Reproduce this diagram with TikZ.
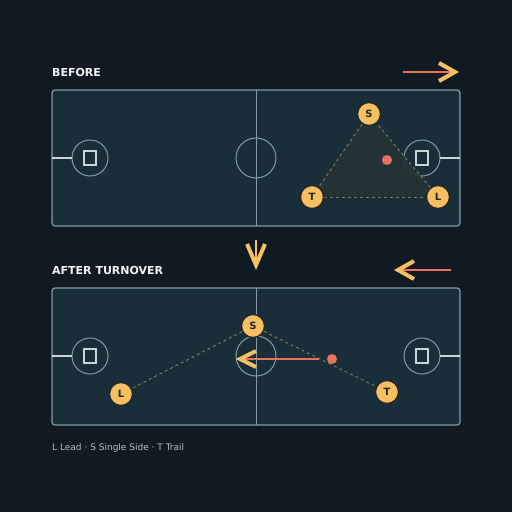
\documentclass[tikz,border=0pt]{standalone}
\usepackage{fontspec}
\setmainfont{DejaVu Sans}
\definecolor{bg}{HTML}{111A22}
\definecolor{court}{HTML}{1A2E3A}
\definecolor{lineC}{HTML}{7E9EA4}
\definecolor{stub}{HTML}{C8D6D8}
\definecolor{gold}{HTML}{F6C062}
\definecolor{salmon}{HTML}{E8735A}
\definecolor{dashC}{HTML}{7D7A52}
\definecolor{tri}{HTML}{243335}
\definecolor{txt}{HTML}{F0F0F0}
\definecolor{legend}{HTML}{B8C0C4}
\tikzset{
  courtbox/.style={draw=lineC, fill=court, line width=1.2pt, rounded corners=3pt},
  cline/.style={draw=lineC, line width=1pt},
  stubline/.style={draw=stub, line width=1.6pt},
  hoopsq/.style={draw=stub, line width=1.1pt},
  player/.style={circle, fill=gold, draw=black!85, line width=1.3pt, minimum size=23pt, inner sep=0pt, font=\bfseries\fontsize{10}{10}\selectfont, text=black!85},
  ball/.style={circle, fill=salmon, minimum size=10pt, inner sep=0pt},
  rot/.style={draw=dashC, dashed, dash pattern=on 3pt off 3pt, line width=1pt},
  move/.style={draw=salmon, line width=1.6pt},
  chev/.style={draw=gold, line width=4pt, miter limit=10},
  title/.style={anchor=west, text=txt, font=\bfseries\fontsize{11}{11}\selectfont, inner sep=0pt},
}
\begin{document}
\begin{tikzpicture}[x=1pt,y=-1pt]
\fill[bg] (0,0) rectangle (512,512);
\useasboundingbox (0,0) rectangle (512,512);
% ---------- BEFORE ----------
\node[title] (t1) at (52,72) {BEFORE};
\coordinate (a1s) at (403,72);
\coordinate (a1e) at (454,72);
\draw[move] (a1s) -- (a1e);
\draw[chev] (439,63) -- (455,72) -- (439,81);
\draw[courtbox] (52,90) rectangle (460,226);
\draw[cline] (256,90) -- (256,226);
\draw[cline] (256,158) circle (20);
\draw[cline] (90,158) circle (18);
\draw[cline] (422,158) circle (18);
\draw[stubline] (52,158) -- (72,158);
\draw[stubline] (440,158) -- (460,158);
\draw[hoopsq] (84,151) rectangle (96,165);
\draw[hoopsq] (416,151) rectangle (428,165);
\node[player] (S1) at (369,114) {S};
\node[player] (T1) at (312,197) {T};
\node[player] (L1) at (438,197) {L};
\fill[tri, opacity=0.9] (S1.center) -- (T1.center) -- (L1.center) -- cycle;
\draw[rot] (S1) -- (T1);
\draw[rot] (T1) -- (L1);
\draw[rot] (L1) -- (S1);
\node[player] at (S1) {S};
\node[player] at (T1) {T};
\node[player] at (L1) {L};
\node[ball] (b1) at (387,160) {};
% ---------- middle arrow ----------
\coordinate (m1) at (256,240);
\coordinate (m2) at (256,264);
\draw[draw=gold, line width=1.8pt] (m1) -- (m2);
\draw[chev] (247,244) -- (256,265) -- (265,244);
% ---------- AFTER ----------
\node[title] (t2) at (52,270) {AFTER TURNOVER};
\coordinate (a2s) at (451,270);
\coordinate (a2e) at (400,270);
\draw[move] (a2s) -- (a2e);
\draw[chev] (414,261) -- (398,270) -- (414,279);
\draw[courtbox] (52,288) rectangle (460,425);
\draw[cline] (256,288) -- (256,425);
\draw[cline] (256,356) circle (20);
\draw[cline] (90,356) circle (18);
\draw[cline] (422,356) circle (18);
\draw[stubline] (52,356) -- (72,356);
\draw[stubline] (440,356) -- (460,356);
\draw[hoopsq] (84,349) rectangle (96,363);
\draw[hoopsq] (416,349) rectangle (428,363);
\node[player] (S2) at (253,326) {S};
\node[player] (L2) at (121,394) {L};
\node[player] (T2) at (387,392) {T};
\draw[rot] (S2) -- (L2);
\draw[rot] (S2) -- (T2);
\node[ball] (b2) at (332,359) {};
\coordinate (e2) at (242,359);
\draw[move] (319,359) -- (e2);
\draw[chev] (256,351) -- (240,359) -- (256,367);
% ---------- legend ----------
\node[anchor=west, inner sep=0pt, text=legend, font=\fontsize{9}{9}\selectfont] (lg) at (52,448) {L Lead · S Single Side · T Trail};
\end{tikzpicture}
\end{document}
